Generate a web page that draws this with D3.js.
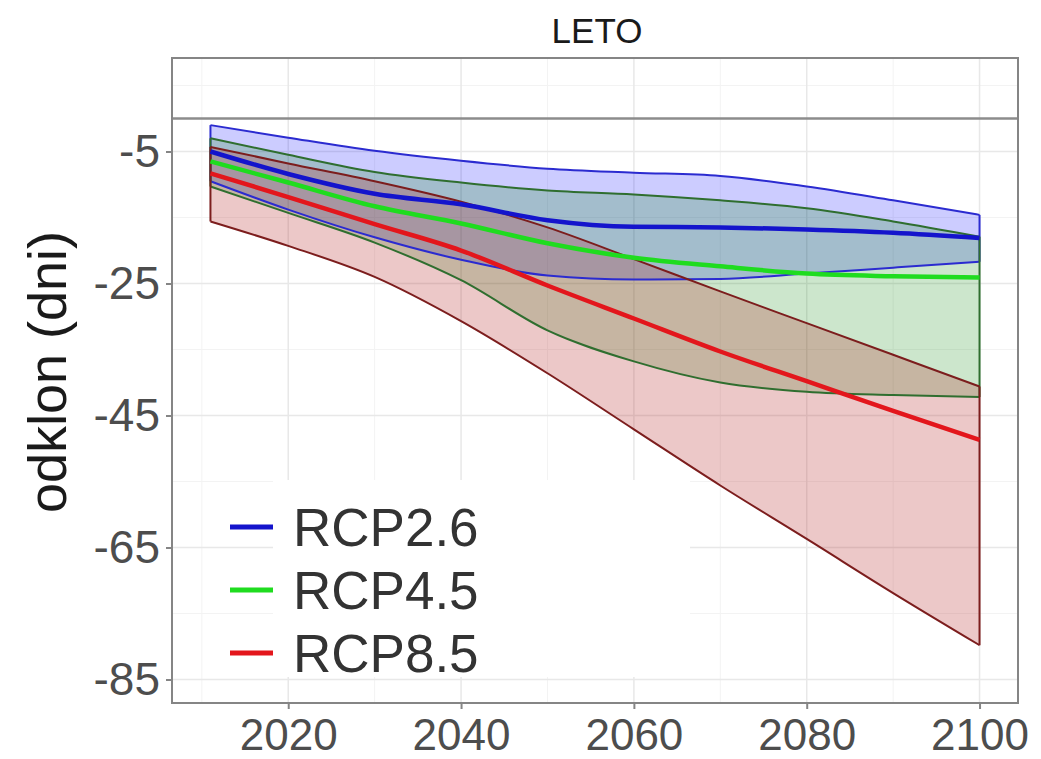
<!DOCTYPE html>
<html>
<head>
<meta charset="utf-8">
<script src="https://cdn.jsdelivr.net/npm/d3@7"></script>
<style>
  html, body { margin: 0; padding: 0; background: #fff; }
  svg { display: block; font-family: "Liberation Sans", Arial, sans-serif; }
</style>
</head>
<body>
<div id="chart"></div>
<script>
// years of the smoothed projections
const years = [2011, 2020, 2030, 2040, 2050, 2060, 2070, 2080, 2090, 2100];

// RCP2.6
const rcp26Mean = [-5.0, -8.4, -11.4, -13.0, -15.4, -16.4, -16.5, -16.8, -17.3, -18.1];
const rcp26Upper = [-1.0, -2.9, -4.9, -6.4, -7.6, -8.2, -8.7, -10.3, -12.4, -14.6];
const rcp26Lower = [-9.5, -13.8, -18.0, -21.4, -23.8, -24.4, -24.3, -23.5, -22.6, -21.7];

// RCP4.5
const rcp45Mean = [-6.5, -9.7, -13.3, -15.9, -18.9, -21.1, -22.4, -23.5, -23.9, -24.1];
const rcp45Upper = [-3.0, -5.5, -8.1, -9.7, -10.9, -11.5, -12.4, -13.6, -15.6, -17.9];
const rcp45Lower = [-10.3, -14.3, -18.8, -24.5, -32.1, -36.8, -40.0, -41.4, -41.9, -42.2];

// RCP8.5
const rcp85Mean = [-8.3, -11.9, -16.0, -20.0, -25.3, -30.3, -35.3, -39.8, -44.3, -48.7];
const rcp85Upper = [-4.3, -6.8, -9.5, -12.6, -16.5, -21.3, -26.2, -31.0, -35.8, -40.6];
const rcp85Lower = [-15.6, -19.3, -24.0, -30.7, -38.6, -47.1, -55.6, -63.7, -71.9, -79.8];

const scenarioNames = ["RCP2.6", "RCP4.5", "RCP8.5"];
const xTicks = [2020, 2040, 2060, 2080, 2100];
const yTicks = [-5, -25, -45, -65, -85];
const refLine = 0;

const styles = {
  "RCP2.6": { line: "#1414cc", fill: "rgba(0,0,255,0.2)", edge: "#2b2bd0" },
  "RCP4.5": { line: "#1fdc1f", fill: "rgba(0,128,0,0.2)", edge: "#2f6e2f" },
  "RCP8.5": { line: "#e3161c", fill: "rgba(178,34,34,0.25)", edge: "#7c1d1d" },
};

const series = [
  { name: "RCP2.6", mean: rcp26Mean, upper: rcp26Upper, lower: rcp26Lower },
  { name: "RCP4.5", mean: rcp45Mean, upper: rcp45Upper, lower: rcp45Lower },
  { name: "RCP8.5", mean: rcp85Mean, upper: rcp85Upper, lower: rcp85Lower },
];

const width = 1041;
const height = 759;
const panel = { left: 172, top: 58, right: 1018, bottom: 703 };

const x = d3.scaleLinear([2006.55, 2104.45], [panel.left, panel.right]);
const y = d3.scaleLinear([-88.56, 9.17], [panel.bottom, panel.top]);

const svg = d3
  .select("#chart")
  .append("svg")
  .attr("width", width)
  .attr("height", height);

// panel background + grid
svg
  .append("rect")
  .attr("x", panel.left)
  .attr("y", panel.top)
  .attr("width", panel.right - panel.left)
  .attr("height", panel.bottom - panel.top)
  .attr("fill", "#fff");

const grid = svg.append("g");
const minorX = d3.range(2010, 2101, 20);
const minorY = d3.range(-75, 10, 20);
grid
  .selectAll("line.minx")
  .data(minorX)
  .join("line")
  .attr("x1", (d) => x(d))
  .attr("x2", (d) => x(d))
  .attr("y1", panel.top)
  .attr("y2", panel.bottom)
  .attr("stroke", "#f3f3f3")
  .attr("stroke-width", 1);
grid
  .selectAll("line.miny")
  .data(minorY)
  .join("line")
  .attr("y1", (d) => y(d))
  .attr("y2", (d) => y(d))
  .attr("x1", panel.left)
  .attr("x2", panel.right)
  .attr("stroke", "#f3f3f3")
  .attr("stroke-width", 1);
grid
  .selectAll("line.majx")
  .data(xTicks)
  .join("line")
  .attr("x1", (d) => x(d))
  .attr("x2", (d) => x(d))
  .attr("y1", panel.top)
  .attr("y2", panel.bottom)
  .attr("stroke", "#e8e8e8")
  .attr("stroke-width", 1.5);
grid
  .selectAll("line.majy")
  .data(yTicks)
  .join("line")
  .attr("y1", (d) => y(d))
  .attr("y2", (d) => y(d))
  .attr("x1", panel.left)
  .attr("x2", panel.right)
  .attr("stroke", "#e8e8e8")
  .attr("stroke-width", 1.5);

// reference line at 0
svg
  .append("line")
  .attr("x1", panel.left)
  .attr("x2", panel.right)
  .attr("y1", y(refLine))
  .attr("y2", y(refLine))
  .attr("stroke", "#8c8c8c")
  .attr("stroke-width", 2.5);

const curve = d3.curveMonotoneX;

const area = d3
  .area()
  .x((d) => x(d.year))
  .y0((d) => y(d.lower))
  .y1((d) => y(d.upper))
  .curve(curve);

const edgeUpper = d3.line().x((d) => x(d.year)).y((d) => y(d.upper)).curve(curve);
const edgeLower = d3.line().x((d) => x(d.year)).y((d) => y(d.lower)).curve(curve);
const meanLine = d3.line().x((d) => x(d.year)).y((d) => y(d.mean)).curve(curve);

const rows = series.map((s) => ({
  name: s.name,
  points: years.map((yr, i) => ({
    year: yr,
    mean: s.mean[i],
    upper: s.upper[i],
    lower: s.lower[i],
  })),
}));

// ribbons
const ribbons = svg.append("g");
rows.forEach((r) => {
  const st = styles[r.name];
  ribbons.append("path").attr("d", area(r.points)).attr("fill", st.fill);
});
rows.forEach((r) => {
  const st = styles[r.name];
  const p = r.points;
  const first = p[0];
  const last = p[p.length - 1];
  const g = ribbons.append("g").attr("fill", "none").attr("stroke", st.edge).attr("stroke-width", 2);
  g.append("path").attr("d", edgeUpper(p));
  g.append("path").attr("d", edgeLower(p));
  g.append("line")
    .attr("x1", x(first.year)).attr("x2", x(first.year))
    .attr("y1", y(first.upper)).attr("y2", y(first.lower));
  g.append("line")
    .attr("x1", x(last.year)).attr("x2", x(last.year))
    .attr("y1", y(last.upper)).attr("y2", y(last.lower));
});

// mean lines
svg
  .append("g")
  .attr("fill", "none")
  .selectAll("path")
  .data(rows)
  .join("path")
  .attr("stroke", (d) => styles[d.name].line)
  .attr("stroke-width", 4.5)
  .attr("stroke-linejoin", "round")
  .attr("d", (d) => meanLine(d.points));

// panel border
svg
  .append("rect")
  .attr("x", panel.left)
  .attr("y", panel.top)
  .attr("width", panel.right - panel.left)
  .attr("height", panel.bottom - panel.top)
  .attr("fill", "none")
  .attr("stroke", "#858585")
  .attr("stroke-width", 2);

// axes
const xAxis = svg
  .append("g")
  .attr("transform", `translate(0,${panel.bottom})`)
  .call(d3.axisBottom(x).tickValues(xTicks).tickFormat(d3.format("d")).tickSize(6).tickPadding(9));
const yAxis = svg
  .append("g")
  .attr("transform", `translate(${panel.left},0)`)
  .call(d3.axisLeft(y).tickValues(yTicks).tickSize(6).tickPadding(6).tickFormat((d) => d3.format("d")(d).replace("−", "-")));

[xAxis, yAxis].forEach((ax) => {
  ax.select(".domain").remove();
  ax.selectAll(".tick line").attr("stroke", "#858585").attr("stroke-width", 2);
  ax.selectAll(".tick text")
    .attr("fill", "#4d4d4d")
    .style("font-family", '"Liberation Sans", Arial, sans-serif');
});
xAxis.selectAll(".tick text").style("font-size", "44px").attr("dy", "0.72em");
yAxis.selectAll(".tick text").style("font-size", "46px");

// y-axis title
svg
  .append("text")
  .attr("transform", `translate(66,372) rotate(-90)`)
  .attr("text-anchor", "middle")
  .attr("fill", "#1a1a1a")
  .style("font-size", "54px")
  .text("odklon (dni)");

// title
svg
  .append("text")
  .attr("x", 597)
  .attr("y", 43)
  .attr("text-anchor", "middle")
  .attr("fill", "#1a1a1a")
  .style("font-size", "35px")
  .text("LETO");

// legend
const legend = svg.append("g");
legend
  .append("rect")
  .attr("x", 273)
  .attr("y", 480)
  .attr("width", 417)
  .attr("height", 197)
  .attr("fill", "#fff");
const legendRow = legend
  .selectAll("g")
  .data(scenarioNames)
  .join("g")
  .attr("transform", (d, i) => `translate(0,${527 + i * 63})`);
legendRow
  .append("line")
  .attr("x1", 230)
  .attr("x2", 273)
  .attr("stroke", (d) => styles[d].line)
  .attr("stroke-width", 5);
legendRow
  .append("text")
  .attr("x", 293)
  .attr("dy", "0.36em")
  .attr("fill", "#333")
  .style("font-size", "53px")
  .text((d) => d);
</script>
</body>
</html>
